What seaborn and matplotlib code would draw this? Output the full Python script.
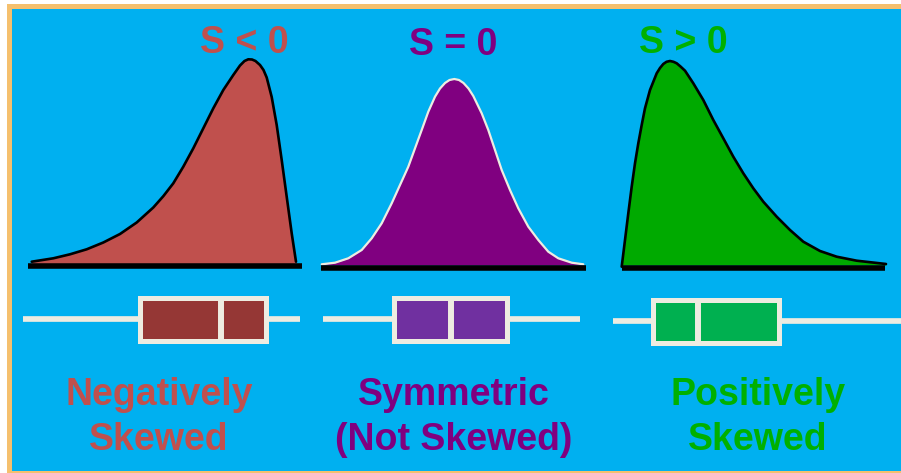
import numpy as np
import pandas as pd
import matplotlib
matplotlib.use("Agg")
import matplotlib.pyplot as plt
from matplotlib.patches import Rectangle
import seaborn as sns

# ---- density outlines (canvas units: x to the right, y downward) ----
neg_x = [31.7, 53.3, 70.0, 86.7, 103.3, 120.0, 136.7, 153.3, 163.3, 173.3, 183.3,
         193.3, 203.3, 213.3, 223.3, 233.3, 240.0, 244.5, 248.3, 252.0, 255.5, 260.0,
         263.5, 266.7, 271.7, 276.7, 281.7, 286.7, 291.7, 296.0]
neg_y = [261.7, 258.3, 254.3, 249.3, 242.5, 234.0, 222.5, 207.5, 196.2, 183.3, 166.7,
         148.3, 128.3, 108.3, 90.0, 75.0, 65.5, 61.0, 59.3, 59.5, 61.0, 65.0,
         70.0, 77.5, 97.0, 125.0, 160.0, 196.7, 233.3, 261.7]

sym_x = [321.7, 335.0, 348.3, 361.7, 371.7, 381.7, 391.7, 400.0, 408.3, 415.0,
         421.7, 428.3, 435.0, 440.0, 445.0, 449.5, 454.3, 459.0, 463.5, 468.5,
         473.3, 481.7, 488.3, 495.0, 501.7, 510.0, 518.3, 528.3, 538.3, 548.3,
         558.3, 571.7, 583.3]
sym_y = [264.3, 262.7, 258.3, 250.0, 238.3, 223.3, 203.3, 185.0, 166.7, 148.3,
         130.0, 111.7, 96.7, 88.5, 83.0, 80.0, 79.0, 80.0, 83.0, 88.5,
         96.0, 113.3, 130.0, 150.0, 170.0, 190.0, 208.3, 226.7, 240.0, 251.7,
         258.3, 262.7, 264.3]

pos_x = [621.7, 625.0, 628.3, 631.7, 635.0, 638.3, 641.7, 645.0, 650.0, 656.7,
         660.0, 663.3, 666.5, 670.0, 673.5, 676.7, 680.5, 685.0, 693.3, 703.3,
         713.3, 723.3, 733.3, 743.3, 753.3, 763.3, 776.7, 790.0, 803.3, 820.0,
         836.7, 856.7, 886.0]
pos_y = [266.7, 240.0, 213.3, 186.7, 163.3, 143.3, 125.0, 108.3, 90.0, 73.3,
         68.0, 64.0, 61.8, 61.0, 61.8, 63.3, 66.5, 70.7, 83.3, 100.0,
         120.0, 138.3, 156.7, 173.3, 188.3, 201.7, 216.7, 230.0, 241.7, 251.0,
         256.7, 260.7, 264.0]

# ---- five-number summaries: lower whisker, Q1, median, Q3, upper whisker ----
neg_box = [22.7, 139.5, 221.0, 265.8, 300.0]
sym_box = [322.7, 394.0, 451.0, 506.8, 580.0]
pos_box = [612.7, 652.5, 698.0, 779.2, 905.0]

titles = ["S < 0", "S = 0", "S > 0"]
label_line1 = ["Negatively", "Symmetric", "Positively"]
label_line2 = ["Skewed", "(Not Skewed)", "Skewed"]

# ---- styling ----
BLUE = "#00B0F0"
ORANGE = "#F5C06E"
CREAM = "#EEECE1"
curve_fill = ["#C0504D", "#800080", "#00AA00"]
curve_edge = ["black", CREAM, "black"]
box_fill = ["#953735", "#7030A0", "#00B050"]
text_col = ["#C0504D", "#800080", "#00B000"]
FONT = ["Liberation Sans", "DejaVu Sans"]

sns.set_style("white")

fig = plt.figure(figsize=(9.01, 4.73), dpi=100)
fig.patch.set_facecolor("white")
ax = fig.add_axes([0, 0, 1, 1])
ax.set_xlim(0, 901)
ax.set_ylim(473, 0)
ax.axis("off")

# frame: orange border around the blue panel
ax.add_patch(Rectangle((7, 4), 900, 470, facecolor=ORANGE, edgecolor="none", zorder=0))
ax.add_patch(Rectangle((12, 9.3), 900, 461.4, facecolor=BLUE, edgecolor="none", zorder=0.5))

curves = [(neg_x, neg_y), (sym_x, sym_y), (pos_x, pos_y)]
baselines = [(28.3, 301.7, 265.8), (321.0, 585.7, 268.0), (621.7, 885.0, 268.0)]
edge_w = [1.9, 1.6, 1.9]

for i, (cx, cy) in enumerate(curves):
    cx = np.asarray(cx)
    cy = np.asarray(cy)
    ax.fill_between(cx, cy, 265.0, color=curve_fill[i], linewidth=0, zorder=2)
    sns.lineplot(x=cx, y=cy, color=curve_edge[i], linewidth=edge_w[i], ax=ax,
                 zorder=3, sort=False)
    x0, x1, yb = baselines[i]
    ax.plot([x0, x1], [yb, yb], color="black", linewidth=4.0,
            solid_capstyle="butt", zorder=4)

# box plots
box_rows = [(neg_box, 319.2), (sym_box, 319.2), (pos_box, 321.4)]
for i, (vals, ypos) in enumerate(box_rows):
    df = pd.DataFrame({"value": vals, "row": [ypos] * len(vals)})
    n_before = len(ax.lines)
    sns.boxplot(data=df, x="value", y="row", orient="h", native_scale=True,
                width=43.3, color=box_fill[i], saturation=1, linecolor=CREAM,
                linewidth=3.6, whis=(0, 100), showcaps=False, showfliers=False,
                whiskerprops=dict(linewidth=4.1, solid_capstyle="butt"),
                medianprops=dict(linewidth=4.3, color=CREAM, solid_capstyle="butt"),
                ax=ax)
    # thick whisker bars (horizontal lines added by this box plot)
    for ln in ax.lines[n_before:]:
        yd = np.asarray(ln.get_ydata(), dtype=float)
        if yd.size == 2 and np.allclose(yd[0], yd[1]):
            ln.set_linewidth(4.1)
            ln.set_solid_capstyle("butt")

# titles and two-line captions
title_pos = [(244, 53.3), (453, 55.0), (683, 53.3)]
label_x = [159, 454, 758]
for i in range(3):
    tx, ty = title_pos[i]
    ax.text(tx, ty, titles[i], color=text_col[i], fontsize=27, fontweight="bold",
            family=FONT, ha="center", va="baseline", zorder=5)
    ax.text(label_x[i], 405, label_line1[i], color=text_col[i], fontsize=27,
            fontweight="bold", family=FONT, ha="center", va="baseline", zorder=5)
    ax.text(label_x[i], 450, label_line2[i], color=text_col[i], fontsize=27,
            fontweight="bold", family=FONT, ha="center", va="baseline", zorder=5)

ax.set_xlim(0, 901)
ax.set_ylim(473, 0)
ax.axis("off")
fig.savefig("out.png", dpi=100, facecolor=fig.get_facecolor())
